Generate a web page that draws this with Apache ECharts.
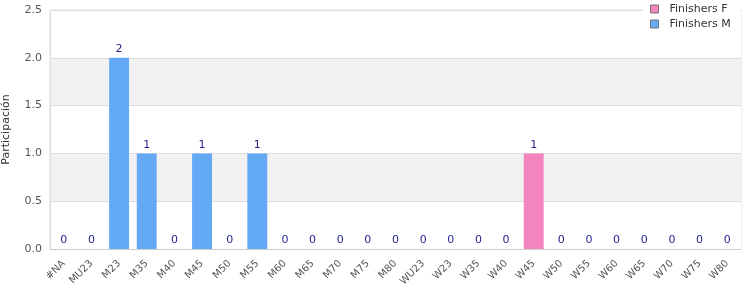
<!DOCTYPE html>
<html><head><meta charset="utf-8">
<script src="https://cdn.jsdelivr.net/npm/echarts@6/dist/echarts.min.js"></script>
<style>html,body{margin:0;padding:0;background:#fff}#c{width:750px;height:300px}</style>
</head><body><div id="c"></div>
<script>
const categories = ['#NA','MU23','M23','M35','M40','M45','M50','M55','M60','M65','M70','M75','M80','WU23','W23','W35','W40','W45','W50','W55','W60','W65','W70','W75','W80'];
const finishersF = [0,0,0,0,0,0,0,0,0,0,0,0,0,0,0,0,0,1,0,0,0,0,0,0,0];
const finishersM = [0,0,2,1,0,1,0,1,0,0,0,0,0,0,0,0,0,0,0,0,0,0,0,0,0];
const yTicks = [0, 0.5, 1.0, 1.5, 2.0, 2.5];

const chart = echarts.init(document.getElementById('c'), null, {renderer:'canvas'});
chart.setOption({
  animation:false,
  textStyle:{fontFamily:'DejaVu Sans'},
  grid:{left:50,right:9,top:10,bottom:51,show:true,borderColor:'#ddd',borderWidth:1,outerBoundsMode:'none',containLabel:false},
  legend:{
    data:['Finishers F','Finishers M'],
    orient:'vertical', left:643, top:0,
    backgroundColor:'#fff',
    padding:[3,9,3,7],
    itemWidth:8,itemHeight:8,itemGap:3,
    icon:'rect',
    itemStyle:{borderColor:'#777',borderWidth:1},
    textStyle:{color:'#333',fontSize:11,fontFamily:'DejaVu Sans',padding:[0,0,0,6],lineHeight:12}
  },
  xAxis:{
    type:'category', data:categories,
    axisLine:{lineStyle:{color:'#ccc'}},
    axisTick:{show:false},
    axisLabel:{rotate:45,color:'#555',fontSize:10,interval:0,margin:13,fontFamily:'DejaVu Sans'}
  },
  yAxis:{
    type:'value', min:yTicks[0], max:yTicks[yTicks.length-1], interval:0.5,
    name:'Participación', nameLocation:'middle', nameGap:38, nameRotate:90,
    nameTextStyle:{color:'#333',fontSize:11,fontFamily:'DejaVu Sans'},
    axisLine:{show:true,lineStyle:{color:'#ddd'}},
    axisTick:{show:false},
    axisLabel:{color:'#555',fontSize:11,margin:8,formatter:v=>v.toFixed(1),fontFamily:'DejaVu Sans'},
    splitLine:{show:true,lineStyle:{color:'#ddd'}},
    splitArea:{show:true,areaStyle:{color:['#fff','#f2f2f2']}}
  },
  series:[
    {name:'Finishers F',type:'bar',stack:'t',data:finishersF,barWidth:'72%',
     itemStyle:{color:'#f384be'}},
    {name:'Finishers M',type:'bar',stack:'t',data:finishersM,barWidth:'72%',
     itemStyle:{color:'#63a9f5'},
     label:{show:true,position:'top',distance:3,color:'#1f1f8f',fontSize:11,fontFamily:'DejaVu Sans',
       formatter:p=>String(finishersF[p.dataIndex]+finishersM[p.dataIndex])}}
  ]
});
</script></body></html>
